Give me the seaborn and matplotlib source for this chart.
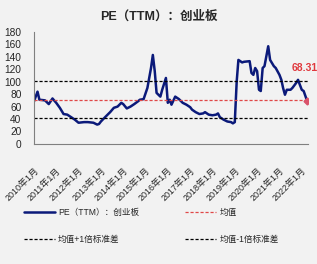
import pandas as pd
import numpy as np
import matplotlib
matplotlib.use('Agg')
import matplotlib.pyplot as plt
import seaborn as sns

# PE (TTM) of ChiNext
dates = [
    '2010-01', '2010-03', '2010-04', '2010-07', '2010-09', '2010-11',
    '2011-01', '2011-03', '2011-05', '2011-07', '2011-09', '2011-11',
    '2012-01', '2012-04', '2012-06', '2012-09', '2012-11', '2012-12',
    '2013-01', '2013-03', '2013-05', '2013-06', '2013-08', '2013-10', '2013-12',
    '2014-01', '2014-03', '2014-05', '2014-07', '2014-09', '2014-10', '2014-12',
    '2015-02', '2015-04', '2015-05', '2015-06', '2015-07', '2015-09', '2015-10', '2015-12',
    '2016-01', '2016-02', '2016-03', '2016-05', '2016-07', '2016-09', '2016-11',
    '2017-01', '2017-02', '2017-04', '2017-06', '2017-08', '2017-09', '2017-11',
    '2018-01', '2018-03', '2018-04', '2018-05', '2018-07', '2018-09', '2018-11', '2018-12',
    '2019-01', '2019-02', '2019-03', '2019-05', '2019-06', '2019-09', '2019-10', '2019-11', '2019-12',
    '2020-01', '2020-02', '2020-03', '2020-04', '2020-05', '2020-07', '2020-08', '2020-10', '2020-11',
    '2021-01', '2021-02', '2021-03', '2021-04', '2021-05', '2021-07', '2021-08', '2021-10', '2021-11', '2021-12',
    '2022-01', '2022-02', '2022-04',
]
pe_values = [
    68, 84, 71, 70, 64, 73,
    66, 58, 48, 47, 43, 39,
    34, 35, 35, 34, 31, 32,
    36, 42, 48, 51, 58, 60, 66,
    64, 57, 60, 64, 68.5, 71, 72,
    90, 122, 143, 117, 82, 76, 87, 106,
    66, 71, 63, 76, 72, 66, 63,
    59, 55, 51, 48, 49, 51, 47,
    46, 47, 49, 43, 39, 36, 35, 33,
    35, 100, 135, 131, 132, 133, 114, 111, 122,
    117, 87, 85, 122, 125, 157, 135, 125, 122,
    111, 103, 90, 79, 87, 87, 90, 98, 103, 95,
    87, 85, 68.31,
]
mean_val = 71.0
std_val = 30.0
year_ticks = list(range(2010, 2023))
tick_labels = [f'{y}年1月' for y in year_ticks]

df = pd.DataFrame({'date': pd.to_datetime(dates), 'pe': pe_values})

sns.set_style('white')
plt.rcParams['font.family'] = ['Liberation Sans', 'Noto Sans CJK SC', 'DejaVu Sans']
bg = '#f2f2f2'

fig = plt.figure(figsize=(3.17, 2.64), dpi=100, facecolor=bg)
ax = fig.add_axes([0.107, 0.455, 0.865, 0.424], facecolor=bg)

sns.lineplot(data=df, x='date', y='pe', ax=ax, color='#0b1a7a', lw=1.8,
             label='PE（TTM）：创业板')
ax.axhline(mean_val, color='#e04848', lw=0.9, ls=(0, (2.5, 1.5)), label='均值')
ax.axhline(mean_val + std_val, color='black', lw=0.9, ls=(0, (2.5, 1.5)), label='均值+1倍标准差')
ax.axhline(mean_val - std_val, color='black', lw=0.9, ls=(0, (2.5, 1.5)), label='均值-1倍标准差')

last = df.iloc[-1]
ax.plot(last['date'], last['pe'], marker='D', ms=3.5, color='#d9536b', zorder=5)
ax.annotate(f"{last['pe']:.2f}", xy=(last['date'], last['pe']), xytext=(-2, 24),
            textcoords='offset points', ha='center', va='center',
            color='#e0383d', fontsize=7.5, fontweight='bold', annotation_clip=False)

ax.set_xlim(pd.Timestamp('2010-01-01'), pd.Timestamp('2022-04-15'))
ax.set_ylim(0, 180)
ax.set_yticks(range(0, 181, 20))
ax.set_xticks([pd.Timestamp(f'{y}-01-01') for y in year_ticks])
ax.set_xticklabels(tick_labels, rotation=45, ha='right', rotation_mode='anchor')
ax.tick_params(axis='y', labelsize=7.3, direction='in', length=2.5, color='#808080', pad=9)
ax.tick_params(axis='x', labelsize=6.5, direction='in', length=2.5, color='#808080', pad=16)
ax.set_xlabel('')
ax.set_ylabel('')
for side in ['top', 'right']:
    ax.spines[side].set_visible(False)
for side in ['left', 'bottom']:
    ax.spines[side].set_color('#808080')
    ax.spines[side].set_linewidth(0.8)

fig.suptitle('PE（TTM）：创业板', x=0.5, y=0.96, fontsize=9, fontweight='bold')

handles, labels = ax.get_legend_handles_labels()
ax.get_legend().remove()
order = [0, 2, 1, 3]
fig.legend([handles[i] for i in order], [labels[i] for i in order], ncol=2,
           loc='upper left', bbox_to_anchor=(0.05, 0.24),
           frameon=False, fontsize=6.2, handlelength=3.6, handletextpad=0.4,
           columnspacing=5.3, labelspacing=2.0)

fig.savefig('out.png', dpi=100, facecolor=bg)
